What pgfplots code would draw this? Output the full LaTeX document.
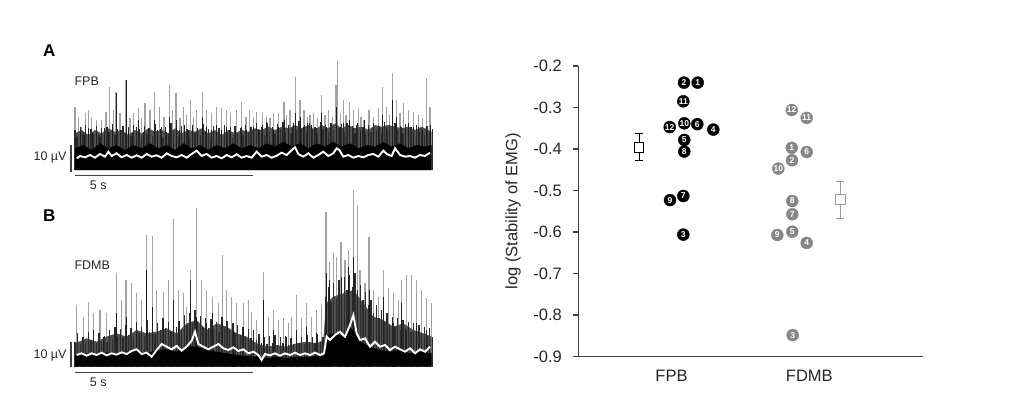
\documentclass[border=0pt]{standalone}
\usepackage{fontspec}
\setmainfont{Liberation Sans}
\usepackage{pgfplots}
\pgfplotsset{compat=1.18}
\usepackage{pgfplotstable}
\definecolor{spkL}{HTML}{A3A3A3}
\definecolor{spkM}{HTML}{1E1E1E}
\definecolor{spkD}{HTML}{2A2A2A}
\definecolor{bandD}{HTML}{505050}
\definecolor{axg}{HTML}{404040}
\definecolor{fdmb}{HTML}{878787}
\definecolor{fdmbm}{HTML}{9C9C9C}

% ---------- Trace A (FPB), units of a 1260 x 540 frame, baseline 420 ----------
\pgfplotstableread{
x y
165 230
175 260
185 290
197 250
205 240
215 260
230 270
245 270
258 245
268 170
280 240
288 185
300 250
318 150
330 265
340 250
355 235
365 265
375 220
390 240
403 185
418 230
432 260
448 165
458 240
468 190
480 265
490 230
500 255
512 210
520 260
530 240
547 185
560 240
575 250
590 230
605 235
620 240
632 250
650 240
665 215
678 260
688 240
700 260
710 245
728 250
740 260
750 265
760 250
775 250
792 215
800 255
810 240
826 140
840 210
852 240
862 260
870 255
880 250
893 265
905 195
915 255
925 240
938 260
948 165
953 92
962 250
970 210
978 255
988 215
1000 240
1015 235
1023 260
1032 270
1047 240
1060 260
1075 235
1088 170
1100 230
1108 255
1117 130
1130 210
1140 250
1150 220
1165 240
1180 245
1195 255
1208 265
1220 145
1230 230
}\Agray
\pgfplotstableread{
x y
165 310
185 300
205 315
225 300
245 310
265 295
285 305
305 300
325 315
345 300
365 310
385 295
405 305
425 300
445 310
465 295
485 310
505 300
525 305
545 295
565 310
585 300
605 315
625 300
645 310
665 300
685 305
705 295
725 300
745 290
765 300
785 290
805 295
825 285
845 295
865 285
885 300
905 285
925 295
945 280
965 295
985 285
1005 295
1025 290
1045 300
1065 285
1085 290
1105 285
1125 290
1145 295
1165 290
1185 300
1205 290
1225 300
1235 305
}\Aband
\pgfplotstableread{
x y
165 300
173 318
181 292
189 310
197 285
205 322
213 298
221 312
229 288
237 316
245 295
253 326
261 290
269 305
277 282
285 315
293 296
301 320
309 288
317 308
325 292
333 318
341 285
349 310
357 298
365 322
373 287
381 312
389 295
397 318
405 283
413 306
421 298
429 324
437 290
445 312
453 280
461 303
469 292
477 318
485 289
493 310
501 297
509 322
517 286
525 308
533 294
541 316
549 282
557 305
565 296
573 320
581 288
589 311
597 293
605 317
613 285
621 307
629 299
637 323
645 289
653 309
661 294
669 315
677 286
685 306
693 292
701 318
709 280
717 300
725 291
733 314
741 278
749 302
757 290
765 312
773 282
781 298
789 275
797 305
805 288
813 310
821 280
829 300
837 272
845 296
853 285
861 308
869 278
877 301
885 290
893 312
901 276
909 298
917 284
925 306
933 279
941 300
949 270
957 295
965 283
973 305
981 278
989 299
997 288
1005 310
1013 280
1021 302
1029 291
1037 312
1045 284
1053 305
1061 279
1069 300
1077 289
1085 308
1093 275
1101 298
1109 284
1117 305
1125 278
1133 300
1141 288
1149 310
1157 283
1165 303
1173 292
1181 314
1189 286
1197 306
1205 295
1213 315
1221 288
1229 305
1237 296
}\Adense
\pgfplotstableread{
x y
170 320
182 300
194 315
206 295
218 310
230 300
242 320
254 295
266 305
278 290
290 190
302 300
318 150
326 295
338 310
350 290
355 270
370 305
385 295
403 270
412 300
425 290
440 305
448 260
468 270
478 300
492 285
505 300
518 290
532 305
547 260
560 290
575 300
590 285
603 300
618 290
632 290
645 305
665 290
680 300
700 290
715 300
728 285
740 275
760 300
775 290
792 270
805 285
818 295
826 250
840 260
850 290
862 280
875 285
890 295
905 250
918 290
932 280
948 230
960 290
970 280
988 270
1000 295
1010 285
1020 300
1032 270
1045 290
1060 280
1075 295
1088 255
1100 290
1117 210
1130 260
1145 290
1155 300
1165 280
1180 290
1195 290
1208 300
1220 290
1232 285
}\Ablack
\pgfplotstableread{
x y
165 355
190 345
215 360
240 340
265 355
290 345
315 360
340 345
365 355
390 340
415 355
440 345
465 360
490 340
515 355
540 345
565 360
590 345
615 355
640 340
665 355
690 345
715 355
740 340
765 350
790 335
815 350
840 340
865 355
890 340
915 350
940 335
965 350
990 340
1015 355
1040 345
1065 350
1090 335
1115 350
1140 340
1165 355
1190 345
1215 350
1235 345
}\Ablk
\pgfplotstableread{
x y
170 385
180 378
195 382
210 375
225 383
240 372
255 380
265 365
275 378
290 370
305 382
320 375
335 383
350 376
365 383
380 372
395 380
410 376
425 383
440 370
455 378
470 382
485 375
500 383
515 372
530 362
545 378
560 372
575 383
590 378
605 385
620 375
635 382
650 373
665 383
680 378
695 383
710 365
725 380
740 375
755 383
770 377
785 368
800 375
815 360
825 352
835 372
850 380
865 370
880 383
895 375
910 365
925 378
940 370
950 355
958 360
970 380
985 375
1000 383
1015 378
1030 382
1045 375
1060 372
1075 380
1090 362
1100 372
1115 378
1125 355
1140 375
1155 380
1170 378
1185 383
1200 375
1215 378
1230 368
}\Awhite

% ---------- Trace B (FDMB), units of a 1260 x 600 frame, baseline 530 ----------
\pgfplotstableread{
x y
170 345
190 380
205 335
220 370
240 360
260 370
290 250
305 330
318 270
335 280
350 310
365 330
380 135
397 138
410 300
430 305
445 270
460 88
475 300
490 310
500 350
512 240
530 55
545 270
560 300
578 320
595 340
608 195
620 300
635 320
650 340
670 340
685 330
695 365
710 390
730 245
745 380
760 360
775 390
790 385
805 400
815 380
830 315
845 385
860 340
875 380
890 360
905 345
918 65
928 215
940 190
950 200
963 155
975 210
985 180
1000 0
1012 45
1020 240
1035 280
1047 140
1060 300
1075 320
1090 240
1105 295
1120 310
1135 330
1145 270
1160 255
1175 255
1190 270
1205 300
1220 325
1235 340
}\Bgray
\pgfplotstableread{
x y
165 460
200 445
230 455
260 440
290 430
320 440
350 420
380 430
410 425
440 415
470 430
500 400
530 390
560 420
590 400
620 410
650 430
680 440
710 460
740 470
770 465
800 470
830 460
860 455
890 460
910 450
918 340
940 320
970 310
1000 300
1030 340
1060 380
1090 390
1120 410
1150 400
1180 420
1210 430
1235 440
}\Bband
\pgfplotstableread{
x y
165 455
173 430
181 462
189 440
197 458
205 425
213 450
221 435
229 460
237 428
245 452
253 438
261 455
269 420
277 448
285 410
293 440
301 418
309 445
317 405
325 435
333 415
341 442
349 395
357 430
365 410
373 438
381 390
389 425
397 405
405 432
413 398
421 420
429 385
437 415
445 395
453 425
461 380
469 410
477 392
485 420
493 375
501 405
509 370
517 398
525 360
533 395
541 378
549 410
557 385
565 415
573 388
581 418
589 395
597 425
605 380
613 410
621 392
629 420
637 398
645 430
653 405
661 435
669 412
677 440
685 418
693 445
701 425
709 450
717 432
725 458
733 440
741 462
749 438
757 460
765 435
773 465
781 442
789 460
797 438
805 465
813 445
821 462
829 430
837 458
845 440
853 462
861 435
869 455
877 440
885 460
893 432
901 455
909 440
917 320
925 290
933 335
941 280
949 325
957 270
965 315
973 260
981 300
989 255
997 290
1005 250
1013 300
1021 285
1029 330
1037 305
1045 345
1053 330
1061 370
1069 345
1077 385
1085 360
1093 395
1101 370
1109 405
1117 380
1125 410
1133 385
1141 420
1149 390
1157 415
1165 395
1173 425
1181 400
1189 430
1197 405
1205 428
1213 410
1221 435
1229 415
1237 440
}\Bdense
\pgfplotstableread{
x y
220 420
250 440
290 370
320 380
350 410
380 240
397 350
430 400
460 330
475 400
512 270
530 380
560 400
578 370
608 380
640 400
670 410
700 420
730 330
760 420
800 440
830 420
860 410
890 430
918 250
928 270
963 260
985 230
1000 200
1012 300
1047 300
1090 320
1120 400
1145 340
1160 420
1190 400
1220 420
}\Bblack
\pgfplotstableread{
x y
165 495
200 490
230 495
260 488
290 492
320 485
350 480
380 490
410 480
440 478
470 485
500 470
530 470
560 480
590 485
620 490
650 495
680 498
710 500
740 505
770 500
800 505
830 500
860 502
890 498
912 500
918 440
940 430
970 440
990 410
1005 430
1020 455
1050 470
1080 480
1110 485
1140 480
1170 490
1200 485
1235 490
}\Bblk
\pgfplotstableread{
x y
170 495
185 490
200 497
215 490
230 495
245 488
260 496
275 490
290 494
305 487
320 492
335 483
350 478
365 492
380 488
395 500
410 480
425 462
440 470
455 478
470 468
485 482
500 470
515 452
525 425
535 462
550 470
565 478
580 470
595 462
610 475
625 480
640 472
655 483
670 478
685 490
700 485
715 495
725 510
735 492
750 496
765 490
780 497
795 490
810 495
825 488
840 495
855 490
870 495
885 488
900 495
912 490
920 440
930 450
945 435
960 425
975 440
990 405
1000 375
1010 430
1020 450
1035 445
1050 470
1065 455
1080 470
1095 465
1110 480
1125 470
1140 478
1155 485
1170 475
1185 490
1200 478
1215 485
1230 470
}\Bwhite

% ---------- Stability data ----------
\pgfplotstableread{
x y lab
684.0 -0.240 2
697.7 -0.240 1
683.3 -0.285 11
669.7 -0.347 12
684.3 -0.338 10
697.3 -0.340 6
713.3 -0.353 4
684.3 -0.378 5
684.3 -0.406 8
670.0 -0.523 9
683.3 -0.513 7
683.3 -0.606 3
}\FPB
\pgfplotstableread{
x y lab
791.7 -0.306 12
806.7 -0.325 11
791.7 -0.397 1
806.7 -0.407 6
792.0 -0.427 2
778.3 -0.447 10
792.3 -0.525 8
792.3 -0.557 7
792.3 -0.599 5
777.3 -0.607 9
806.7 -0.626 4
792.7 -0.848 3
}\FDMB

\pgfplotsset{
  traceaxis/.style={scale only axis, hide axis, clip=false, xmin=0, xmax=1260},
}
\tikzset{
  lbl/.style={font=\fontsize{12.5}{12.5}\selectfont, text=black!85, inner sep=0pt},
  panel/.style={font=\bfseries\fontsize{17}{17}\selectfont, inner sep=0pt},
}

\begin{document}
\begin{tikzpicture}
\useasboundingbox (0,0) rectangle (1013pt,-410pt);

% ===== Trace A =====
\begin{axis}[traceaxis, at={(20pt,-30pt)}, anchor=north west, width=420pt, height=180pt, ymin=-120, ymax=420]
\addplot[ycomb, draw=spkL, line width=1.3pt] table[x=x, y expr=420-\thisrow{y}] {\Agray};
\addplot[fill=bandD, draw=none] table[x=x, y expr=420-\thisrow{y}] {\Aband} \closedcycle;
\addplot[ycomb, draw=spkD, line width=1.2pt] table[x=x, y expr=420-\thisrow{y}] {\Adense};
\addplot[ycomb, draw=spkM, line width=0.8pt] table[x=x, y expr=420-\thisrow{y}] {\Ablack};
\addplot[fill=black, draw=none] table[x=x, y expr=420-\thisrow{y}] {\Ablk} \closedcycle;
\addplot[white, line width=1.9pt] table[x=x, y expr=420-\thisrow{y}] {\Awhite};
\addplot[axg, line width=1.5pt] coordinates {(153,-5) (153,75)};
\addplot[axg, line width=1.5pt] coordinates {(165,-17) (700,-17)};
\node[lbl] at (axis cs:235,-47) {5 s};
\node[lbl, anchor=east] at (axis cs:140,37) {10 µV};
\node[lbl, anchor=west] at (axis cs:163,265) {FPB};
\node[panel] at (axis cs:88,358) {A};
\end{axis}

% ===== Trace B =====
\begin{axis}[traceaxis, at={(20pt,-190pt)}, anchor=north west, width=420pt, height=200pt, ymin=-70, ymax=530]
\addplot[ycomb, draw=spkL, line width=1.3pt] table[x=x, y expr=530-\thisrow{y}] {\Bgray};
\addplot[fill=bandD, draw=none] table[x=x, y expr=530-\thisrow{y}] {\Bband} \closedcycle;
\addplot[ycomb, draw=spkD, line width=1.2pt] table[x=x, y expr=530-\thisrow{y}] {\Bdense};
\addplot[ycomb, draw=spkM, line width=0.8pt] table[x=x, y expr=530-\thisrow{y}] {\Bblack};
\addplot[fill=black, draw=none] table[x=x, y expr=530-\thisrow{y}] {\Bblk} \closedcycle;
\addplot[white, line width=1.9pt] table[x=x, y expr=530-\thisrow{y}] {\Bwhite};
\addplot[axg, line width=1.5pt] coordinates {(153,-2) (153,73)};
\addplot[axg, line width=1.5pt] coordinates {(165,-17) (700,-17)};
\node[lbl] at (axis cs:235,-48) {5 s};
\node[lbl, anchor=east] at (axis cs:140,35) {10 µV};
\node[lbl, anchor=west] at (axis cs:163,305) {FDMB};
\node[panel] at (axis cs:88,453) {B};
\end{axis}

% ===== Stability plot =====
\begin{axis}[at={(578.3pt,-356.7pt)}, anchor=south west, scale only axis,
  width=344.4pt, height=290.7pt,
  xmin=578.3, xmax=922.7, ymin=-0.9, ymax=-0.2,
  axis x line=bottom, axis y line=left,
  axis line style={-, axg, line width=1.5pt},
  ytick={-0.9,-0.8,-0.7,-0.6,-0.5,-0.4,-0.3,-0.2},
  tick align=outside, major tick length=5pt,
  ytick style={axg, line width=1.5pt},
  xtick={671.5,809.3}, xticklabels={FPB,FDMB},
  xtick style={draw=none},
  /pgf/number format/assume math mode=true,
  yticklabel style={/pgf/number format/.cd, fixed, fixed zerofill, precision=1, /tikz/.cd,
     font=\fontsize{16.5}{16.5}\selectfont, text=black!85, xshift=-8pt},
  xticklabel style={font=\fontsize{16.5}{16.5}\selectfont, text=black!85, yshift=-5pt},
  ylabel={log (Stability of EMG)},
  every axis y label/.style={at={(axis description cs:-0.189,0.5)}, rotate=90, anchor=center,
     font=\fontsize{16.5}{16.5}\selectfont, text=black!85},
  clip=false,
]
% FPB mean +- error
\addplot[black, line width=0.9pt, mark=none, forget plot,
  error bars/.cd, y dir=both, y explicit,
  error bar style={black, line width=0.9pt},
  error mark options={rotate=90, mark size=4pt, black, line width=0.9pt}]
  coordinates {(639,-0.396) += (0,0.033) -= (0,0.031)};
\addplot[only marks, mark=square*, mark size=4.8pt, mark options={fill=white, draw=black, line width=0.9pt}]
  coordinates {(639,-0.396)};
% FDMB mean +- error
\addplot[fdmbm, line width=0.9pt, mark=none, forget plot,
  error bars/.cd, y dir=both, y explicit,
  error bar style={fdmbm, line width=0.9pt},
  error mark options={rotate=90, mark size=4pt, fdmbm, line width=0.9pt}]
  coordinates {(840.3,-0.521) += (0,0.043) -= (0,0.045)};
\addplot[only marks, mark=square*, mark size=4.8pt, mark options={fill=white, draw=fdmbm, line width=0.9pt}]
  coordinates {(840.3,-0.521)};
% FPB subjects
\addplot[only marks, mark=*, mark size=6pt, mark options={fill=black, draw=black},
  nodes near coords, point meta=explicit symbolic, nodes near coords align=center,
  every node near coord/.append style={anchor=center, text=white, inner sep=0pt,
     font=\bfseries\fontsize{8.5}{8.5}\selectfont}]
  table[x=x, y=y, meta=lab] {\FPB};
% FDMB subjects
\addplot[only marks, mark=*, mark size=6pt, mark options={fill=fdmb, draw=fdmb},
  nodes near coords, point meta=explicit symbolic, nodes near coords align=center,
  every node near coord/.append style={anchor=center, text=white, inner sep=0pt,
     font=\bfseries\fontsize{8.5}{8.5}\selectfont}]
  table[x=x, y=y, meta=lab] {\FDMB};
\end{axis}
\end{tikzpicture}
\end{document}
